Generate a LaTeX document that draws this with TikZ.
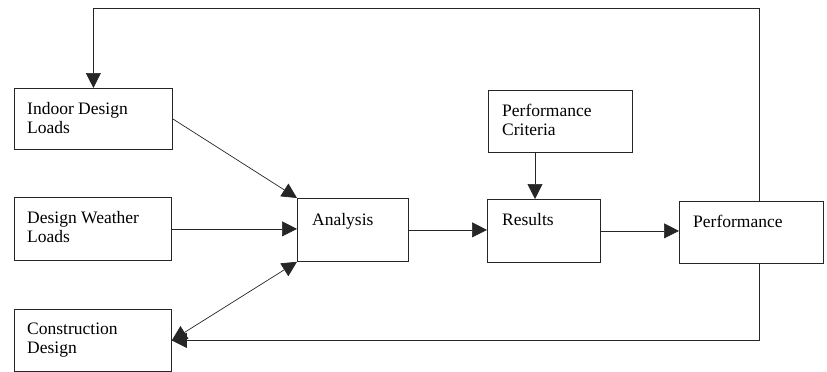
\documentclass[tikz,border=0pt]{standalone}
\usepackage{fontspec}
\setmainfont{Liberation Serif}
\usetikzlibrary{arrows.meta,calc}
\tikzset{
  box/.style={draw=black!85, line width=0.8pt, rectangle, anchor=north west, inner sep=0pt},
  lbl/.style={anchor=north west, inner sep=0pt, align=left, font=\fontsize{17.5}{19}\selectfont},
  conn/.style={draw=black!85, line width=0.7pt},
  tip/.style={-{Triangle[length=15pt,width=15pt]}},
  dtip/.style={{Triangle[length=15pt,width=15pt]}-{Triangle[length=15pt,width=15pt]}},
}
\begin{document}
\begin{tikzpicture}[x=1pt,y=-1pt]
\useasboundingbox (0,0) rectangle (827,372);
% boxes
\node[box, minimum width=158pt, minimum height=61pt] (ind) at (14,88) {};
\node[box, minimum width=157pt, minimum height=63pt] (wea) at (14,197) {};
\node[box, minimum width=157pt, minimum height=62pt] (con) at (14,309) {};
\node[box, minimum width=111pt, minimum height=63pt] (ana) at (297,198) {};
\node[box, minimum width=144pt, minimum height=62pt] (cri) at (488,90) {};
\node[box, minimum width=113pt, minimum height=63pt] (res) at (487,199) {};
\node[box, minimum width=144pt, minimum height=62pt] (per) at (679,201) {};
% labels
\node[lbl] (tind) at ($(ind.north west)+(13,14)$) {Indoor Design\\Loads};
\node[lbl] (twea) at ($(wea.north west)+(13,14)$) {Design Weather\\Loads};
\node[lbl] (tcon) at ($(con.north west)+(13,14)$) {Construction\\Design};
\node[lbl] (tana) at ($(ana.north west)+(15,15)$) {Analysis};
\node[lbl] (tcri) at ($(cri.north west)+(14,14)$) {Performance\\Criteria};
\node[lbl] (tres) at ($(res.north west)+(15,14)$) {Results};
\node[lbl] (tper) at ($(per.north west)+(14,14)$) {Performance};
% helper coordinates
\coordinate (fx) at (759,0);
\coordinate (top) at (0,8);
\coordinate (cx) at (535,0);
% connectors
\draw[conn,tip] (ind.east) -- (ana.north west);
\draw[conn,tip] (wea.east) -- (wea.east -| ana.west);
\draw[conn,dtip] (con.east) -- (ana.south west);
\draw[conn,tip] (cx |- cri.south) -- (cx |- res.north);
\draw[conn,tip] (ana.east) -- (ana.east -| res.west);
\draw[conn,tip] (res.east) -- (res.east -| per.west);
\draw[conn,tip] (fx |- per.north) -- (fx |- top) -- (ind.north |- top) -- (ind.north);
\draw[conn,tip] (fx |- per.south) -- (fx |- con.east) -- (con.east);
\end{tikzpicture}
\end{document}
